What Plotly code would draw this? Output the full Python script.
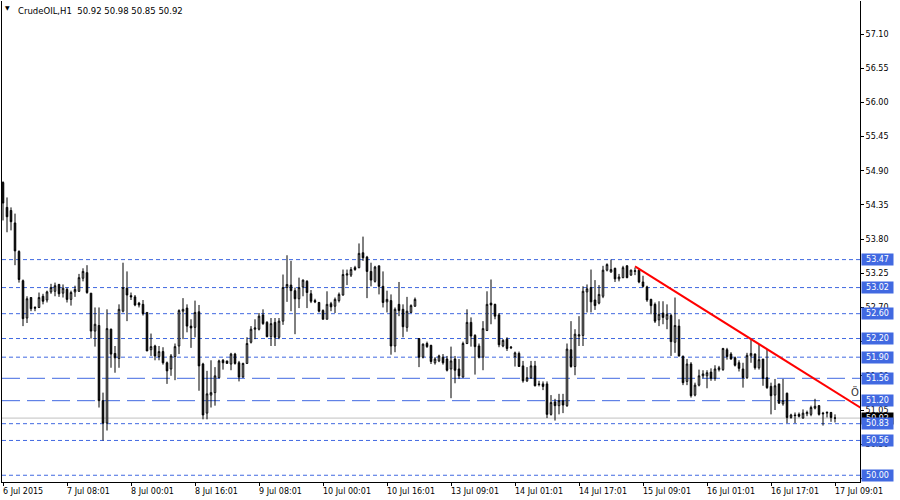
import plotly.graph_objects as go

# ---------------- data (CrudeOIL, H1) ----------------
opens = [54.71,54.31,54.26,54.06,53.60,53.13,52.53,52.86,52.70,52.70,
         52.88,52.82,52.95,52.96,53.07,52.93,52.99,52.83,52.95,52.96,
         53.17,53.26,52.93,52.32,52.41,51.20,50.84,52.35,51.96,51.88,
         52.64,53.01,52.89,52.87,52.77,52.75,52.62,52.02,52.08,51.91,
         51.99,51.81,51.71,51.91,52.08,52.64,52.69,52.40,52.38,52.63,
         51.79,51.00,51.29,51.33,51.57,51.85,51.84,51.79,51.95,51.81,
         51.58,51.80,52.14,52.35,52.35,52.58,52.46,52.23,52.46,52.22,
         52.48,53.02,53.06,52.97,52.84,53.03,53.12,52.92,52.81,52.78,
         52.65,52.51,52.76,52.72,52.81,52.90,53.22,53.22,53.34,53.34,
         53.58,53.51,53.28,53.12,53.37,53.04,52.79,52.81,52.08,52.75,
         52.67,52.38,52.62,52.72,52.20,51.90,52.12,52.09,51.81,51.84,
         51.90,51.87,51.71,51.87,51.71,51.58,52.12,52.46,52.25,52.08,
         51.90,52.33,52.77,52.75,52.58,52.08,52.19,52.05,51.91,51.96,
         51.76,51.52,51.57,51.76,51.47,51.47,51.47,50.98,51.18,51.12,
         51.20,51.12,52.02,51.75,52.24,52.25,52.95,53.02,52.82,52.77,
         52.88,53.30,53.27,53.33,53.16,53.18,53.37,53.22,53.28,53.30,
         53.11,53.03,52.83,52.75,52.50,52.61,52.51,52.57,52.14,52.40,
         51.91,51.51,51.79,51.29,51.45,51.60,51.60,51.66,51.56,51.70,
         51.70,52.02,51.95,51.89,51.81,51.71,51.57,51.92,51.95,51.73,
         51.87,51.57,51.43,51.29,51.47,51.15,51.32,50.93,50.97,50.98,
         50.92,50.99,50.98,51.08,51.12,51.00,51.00,51.01,50.92]
highs = [54.73,54.47,54.31,54.21,53.62,53.15,52.88,52.86,52.72,52.94,
         52.92,52.97,53.08,53.10,53.08,53.07,53.02,52.97,53.05,53.24,
         53.33,53.38,52.93,52.70,52.70,51.33,52.67,52.36,52.08,52.75,
         53.42,53.28,52.94,52.90,52.79,52.82,52.62,52.28,52.10,52.08,
         52.06,51.83,51.95,52.12,52.67,52.85,52.75,52.51,52.81,52.74,
         51.81,51.68,51.85,51.74,51.86,51.87,51.84,51.97,51.97,51.84,
         51.81,52.22,52.40,52.51,52.61,52.67,52.48,52.53,52.53,52.53,
         53.23,53.54,53.45,53.02,53.18,53.15,53.14,52.98,52.84,52.79,
         52.67,52.96,52.79,52.86,52.94,53.31,53.31,53.35,53.37,53.73,
         53.84,53.53,53.42,53.37,53.37,53.28,52.97,52.91,52.70,53.11,
         52.75,52.87,52.75,52.86,52.20,52.12,52.15,52.10,51.90,51.94,
         51.95,51.92,52.07,51.92,51.87,52.15,52.67,52.54,52.27,52.12,
         52.48,52.96,53.15,52.76,52.61,52.19,52.22,52.08,51.99,51.99,
         51.84,51.74,51.84,51.84,51.52,51.51,51.51,51.29,51.23,51.31,
         51.31,52.12,52.48,52.35,52.56,53.04,53.07,53.31,53.14,53.06,
         53.37,53.41,53.47,53.34,53.24,53.37,53.38,53.31,53.34,53.33,
         53.21,53.05,52.84,52.78,52.80,52.80,52.75,52.60,52.86,52.51,
         51.93,51.87,51.82,51.49,51.70,51.69,51.69,51.72,51.77,51.76,
         52.05,52.05,51.98,51.91,51.85,51.81,51.97,52.19,51.96,52.11,
         51.87,52.03,51.49,51.55,51.47,51.55,51.33,50.99,51.01,51.01,
         51.06,51.04,51.12,51.23,51.13,51.02,51.03,51.02,50.98]
lows = [54.10,53.91,53.94,53.38,53.10,52.40,52.45,52.64,52.64,52.69,
        52.75,52.78,52.92,52.88,52.87,52.86,52.78,52.73,52.87,52.95,
        53.12,52.92,52.20,52.07,51.09,50.56,50.72,51.73,51.65,51.73,
        52.62,52.48,52.82,52.72,52.70,52.57,52.00,51.92,51.85,51.85,
        51.78,51.47,51.60,51.53,51.95,52.19,52.30,52.05,52.22,51.36,
        50.90,50.90,51.09,51.12,51.56,51.70,51.80,51.69,51.78,51.51,
        51.57,51.79,52.12,52.19,52.33,52.42,52.22,52.08,52.08,52.19,
        52.42,52.79,52.64,52.27,52.69,52.88,52.69,52.77,52.77,52.62,
        52.51,52.51,52.64,52.61,52.78,52.89,53.06,53.19,53.29,53.33,
        53.45,52.85,53.04,53.10,52.91,52.70,52.62,51.94,51.98,52.56,
        52.22,52.31,52.61,52.71,51.74,51.88,52.05,51.79,51.78,51.82,
        51.78,51.67,51.24,51.48,51.55,51.57,52.11,52.07,51.62,51.88,
        51.69,52.32,52.43,52.51,52.06,52.06,52.00,52.03,51.75,51.75,
        51.49,51.50,51.55,51.43,51.43,51.37,50.92,50.96,50.88,50.98,
        51.00,51.10,51.73,51.61,52.08,52.08,52.62,52.62,52.66,52.75,
        52.85,53.28,53.26,53.11,53.12,53.17,53.17,53.21,53.22,53.09,
        53.02,52.79,52.59,52.45,52.40,52.43,52.35,51.92,51.97,51.91,
        51.45,51.45,51.25,51.27,51.43,51.56,51.40,51.52,51.52,51.67,
        51.68,51.86,51.86,51.75,51.67,51.41,51.55,51.81,51.70,51.70,
        51.44,51.39,50.98,51.05,51.15,51.12,50.84,50.91,50.84,50.93,
        50.91,50.95,50.95,51.06,50.96,50.80,50.93,50.86,50.85]
closes = [54.38,54.16,54.08,53.61,53.15,52.52,52.84,52.68,52.69,52.86,
          52.80,52.95,53.02,53.05,52.92,53.01,52.83,52.94,52.99,53.18,
          53.28,52.94,52.32,52.43,51.20,50.84,52.36,51.95,51.89,52.67,
          53.02,52.90,52.87,52.74,52.74,52.60,52.00,52.07,51.92,51.99,
          51.81,51.68,51.92,52.07,52.65,52.67,52.40,52.37,52.62,51.76,
          50.97,51.31,51.33,51.60,51.84,51.81,51.80,51.95,51.80,51.58,
          51.80,52.12,52.35,52.37,52.56,52.44,52.23,52.44,52.22,52.48,
          53.02,53.07,52.97,52.84,53.02,53.14,52.94,52.80,52.79,52.64,
          52.51,52.75,52.71,52.83,52.91,53.23,53.24,53.31,53.31,53.57,
          53.50,53.28,53.14,53.35,53.04,52.78,52.83,52.08,52.67,52.65,
          52.39,52.64,52.73,52.83,51.90,52.11,52.07,51.83,51.87,51.92,
          51.81,51.69,51.84,51.69,51.60,52.12,52.46,52.24,52.07,51.90,
          52.36,52.75,52.74,52.56,52.10,52.17,52.04,52.06,51.97,51.75,
          51.52,51.57,51.76,51.44,51.46,51.43,50.98,51.17,51.12,51.20,
          51.13,52.03,51.75,52.27,52.26,52.96,53.00,52.79,52.73,52.91,
          53.30,53.39,53.31,53.16,53.19,53.34,53.18,53.30,53.29,53.11,
          53.04,52.82,52.73,52.48,52.59,52.54,52.59,52.15,52.41,51.92,
          51.49,51.79,51.28,51.45,51.60,51.63,51.65,51.56,51.71,51.73,
          52.04,51.91,51.87,51.77,51.72,51.57,51.93,51.96,51.73,51.86,
          51.56,51.41,51.28,51.44,51.16,51.20,50.93,50.97,50.96,50.95,
          51.00,51.01,51.09,51.11,50.98,50.99,51.01,50.93,50.92]

time_tick_labels = ["6 Jul 2015", "7 Jul 08:01", "8 Jul 00:01", "8 Jul 16:01",
                    "9 Jul 08:01", "10 Jul 00:01", "10 Jul 16:01", "13 Jul 09:01",
                    "14 Jul 01:01", "14 Jul 17:01", "15 Jul 09:01", "16 Jul 01:01",
                    "16 Jul 17:01", "17 Jul 09:01"]
bars_per_tick = 16

price_ticks = [57.10, 56.55, 56.00, 55.45, 54.90, 54.35, 53.80, 53.25,
               52.70, 52.15, 51.60, 51.05, 50.50, 49.95]

short_dash_levels = [53.47, 53.02, 52.60, 52.20, 51.90, 50.83, 50.56, 50.00]
long_dash_levels = [51.56, 51.20]
bid_price = 50.92

trend_bars = [158, 222]
trend_prices = [53.36, 50.78]

title_text = "CrudeOIL,H1\u00a0\u00a050.92 50.98 50.85 50.92"

# ---------------- figure ----------------
bar_index = list(range(len(opens)))
tick_bars = [k * bars_per_tick for k in range(len(time_tick_labels))]

FONT = "DejaVu Sans"
BLUE = "#4169E1"

fig = go.Figure()

fig.add_trace(go.Candlestick(
    x=bar_index, open=opens, high=highs, low=lows, close=closes,
    increasing=dict(line=dict(color="black", width=1), fillcolor="white"),
    decreasing=dict(line=dict(color="black", width=1), fillcolor="black"),
    whiskerwidth=0, showlegend=False, hoverinfo="skip",
))

fig.add_trace(go.Scatter(
    x=trend_bars, y=trend_prices, mode="lines",
    line=dict(color="red", width=2), showlegend=False, hoverinfo="skip",
))

shapes = []
for lv in short_dash_levels:
    shapes.append(dict(type="line", xref="paper", x0=0, x1=1, yref="y", y0=lv, y1=lv,
                       line=dict(color=BLUE, width=1, dash="4px,3px"), layer="below"))
for lv in long_dash_levels:
    shapes.append(dict(type="line", xref="paper", x0=0, x1=1, yref="y", y0=lv, y1=lv,
                       line=dict(color=BLUE, width=1, dash="18px,7px"), layer="below"))
shapes.append(dict(type="line", xref="paper", x0=0, x1=1, yref="y", y0=bid_price, y1=bid_price,
                   line=dict(color="#C0C0C0", width=1), layer="below"))

annotations = []
# bid price box (drawn first so the level boxes overlap it)
annotations.append(dict(xref="paper", x=1, xanchor="left", xshift=1, yref="y", y=bid_price,
                        text="%.2f" % bid_price, showarrow=False, bgcolor="black",
                        font=dict(family=FONT, size=8, color="white"),
                        width=29, height=9, borderpad=1))
for lv in sorted(short_dash_levels + long_dash_levels, reverse=True):
    annotations.append(dict(xref="paper", x=1, xanchor="left", xshift=1, yref="y", y=lv,
                            text="%.2f" % lv, showarrow=False, bgcolor=BLUE,
                            font=dict(family=FONT, size=8, color="white"),
                            width=29, height=9, borderpad=1))
# time axis labels (left aligned at tick, like MT4)
for b, lab in zip(tick_bars, time_tick_labels):
    annotations.append(dict(xref="x", x=b, xanchor="left", xshift=-2, yref="paper", y=0,
                            yanchor="top", yshift=-3, text=lab, showarrow=False,
                            font=dict(family=FONT, size=8, color="black")))
# title
annotations.append(dict(xref="paper", x=0, xanchor="left", xshift=1, yref="paper", y=1,
                        yanchor="top", yshift=-1, text="\u25bc", showarrow=False,
                        font=dict(family=FONT, size=6, color="black")))
annotations.append(dict(xref="paper", x=0, xanchor="left", xshift=14, yref="paper", y=1,
                        yanchor="top", yshift=-3, text=title_text, showarrow=False,
                        font=dict(family=FONT, size=8.5, color="black")))
# clipped text object near the right edge
annotations.append(dict(xref="x", x=211.4, xanchor="left", yref="y", y=51.34,
                        text="\u00d6", showarrow=False,
                        font=dict(family=FONT, size=10, color="#333333")))

px_per_unit = 62.15
fig.update_layout(
    width=900, height=500,
    margin=dict(l=2, r=40, t=1, b=18, pad=0),
    paper_bgcolor="white", plot_bgcolor="white",
    boxgap=0.45,
    shapes=shapes, annotations=annotations,
    xaxis=dict(range=[-0.25, 214.25], showgrid=False, zeroline=False,
               showline=True, linecolor="black", linewidth=1, mirror=False,
               ticks="outside", ticklen=3, tickcolor="black",
               tickvals=tick_bars, showticklabels=False,
               rangeslider=dict(visible=False), fixedrange=True),
    yaxis=dict(range=[57.10 - 448 / px_per_unit, 57.10 + 33 / px_per_unit],
               side="right", showgrid=False, zeroline=False,
               showline=True, linecolor="black", linewidth=1, mirror=True,
               ticks="outside", ticklen=3, tickcolor="black",
               tickvals=price_ticks, ticktext=["%.2f" % v for v in price_ticks],
               tickfont=dict(family=FONT, size=8, color="black"), fixedrange=True),
)

fig.write_html(
    "out.html",
    config={"displayModeBar": False},
    post_script="document.body.style.margin='0';document.body.style.overflow='hidden';",
)
